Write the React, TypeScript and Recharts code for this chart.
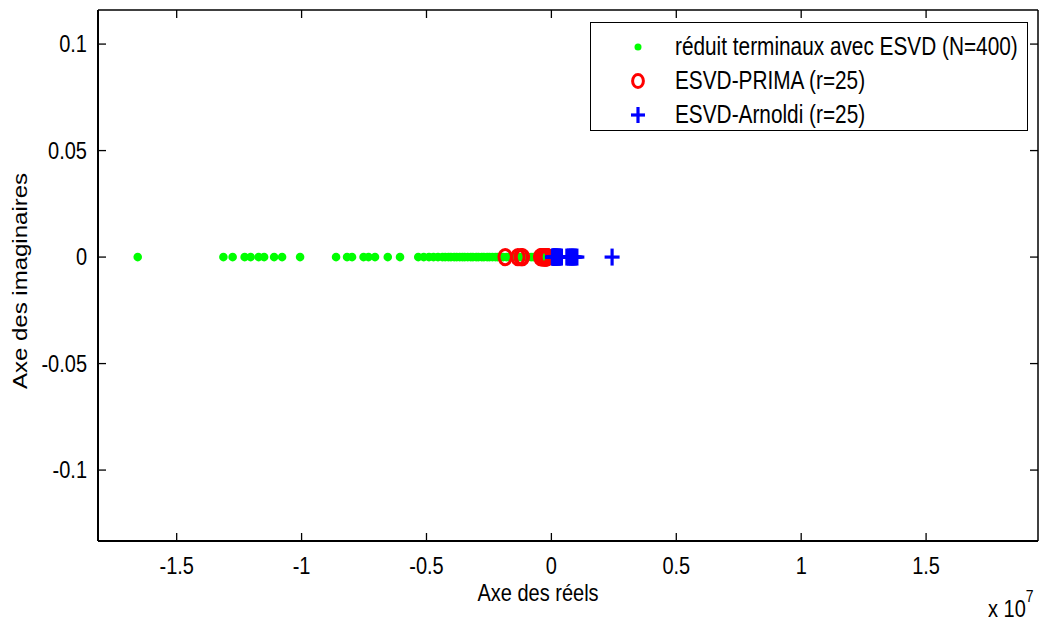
import React from 'react';
import { ScatterChart, Scatter, XAxis, YAxis } from 'recharts';

const FONT = '"Liberation Sans", Arial, Helvetica, sans-serif';
// glyphs in this figure are a bit taller than they are wide
const STRETCH = 1.2;
const TICK = 8;

// real parts of the poles, in units of 1e7 (every pole sits on the real axis)
const fullRe = [
  -1.656, -1.313, -1.276, -1.228, -1.204, -1.172, -1.15, -1.11, -1.078, -1.006,
  -0.862, -0.818, -0.798, -0.752, -0.732, -0.706, -0.655, -0.606,
  -0.533, -0.511, -0.49, -0.472, -0.454,
  -0.436, -0.425, -0.412, -0.402, -0.389, -0.379, -0.367, -0.356, -0.347, -0.335,
  -0.323, -0.314, -0.301, -0.292, -0.279, -0.27, -0.257, -0.248, -0.236, -0.224,
  -0.215, -0.202, -0.193, -0.18, -0.171, -0.158, -0.149, -0.137, -0.125, -0.116,
  -0.103, -0.094, -0.081, -0.072, -0.06, -0.05, -0.041, -0.033, -0.026, -0.02,
  -0.015, -0.011, -0.008, -0.005, -0.003, -0.001,
];
const primaRe = [
  -0.185, -0.134, -0.121, -0.116, -0.043, -0.04, -0.038, -0.036, -0.034, -0.032,
  -0.03, -0.029, -0.028, -0.027, -0.026, -0.025, -0.024, -0.023, -0.022, -0.021,
  -0.02, -0.019, -0.0185, -0.018, -0.017,
];
const arnoldiRe = [
  0.004, 0.006, 0.008, 0.01, 0.012, 0.014, 0.016, 0.018, 0.02, 0.022,
  0.025, 0.028, 0.031, 0.035, 0.04, 0.062, 0.068, 0.074, 0.078, 0.082,
  0.086, 0.09, 0.095, 0.102, 0.243,
];
const imagPart = 0;

const xTicks = [-1.5, -1, -0.5, 0, 0.5, 1, 1.5];
const yTicks = [-0.1, -0.05, 0, 0.05, 0.1];
const xDomain = [-1.815, 1.948];
const yDomain = [-0.1333, 0.116];

const legendItems = [
  { key: 'full', label: 'réduit terminaux avec ESVD (N=400)' },
  { key: 'prima', label: 'ESVD-PRIMA (r=25)' },
  { key: 'arnoldi', label: 'ESVD-Arnoldi (r=25)' },
];

const toPoints = (re: number[]) => re.map((x) => ({ x, y: imagPart }));

const Label = ({ x, y, anchor, value }: any) => (
  <g transform={`translate(${x},${y}) scale(1,${STRETCH})`}>
    <text textAnchor={anchor} dy="0.35em" fontSize={20} fontFamily={FONT} fill="#000">
      {value}
    </text>
  </g>
);

// matlab-style ticks: marks point into the plot box
const BottomTick = ({ x, y, payload }: any) => (
  <g>
    <path d={`M${x},${y}V${y - TICK}`} stroke="#000" strokeWidth={1.3} fill="none" />
    <Label x={x} y={y + 25} anchor="middle" value={String(payload.value)} />
  </g>
);
const TopTick = ({ x, y }: any) => (
  <path d={`M${x},${y}V${y + TICK}`} stroke="#000" strokeWidth={1.3} fill="none" />
);
const LeftTick = ({ x, y, payload }: any) => (
  <g>
    <path d={`M${x},${y}H${x + TICK}`} stroke="#000" strokeWidth={1.3} fill="none" />
    <Label x={x - 11} y={y} anchor="end" value={String(payload.value)} />
  </g>
);
const RightTick = ({ x, y }: any) => (
  <path d={`M${x},${y}H${x - TICK}`} stroke="#000" strokeWidth={1.3} fill="none" />
);

const Dot = ({ cx, cy }: any) => <circle cx={cx} cy={cy} r={4.3} fill="#00ff00" />;
const Ring = ({ cx, cy }: any) => (
  <ellipse cx={cx} cy={cy} rx={6.2} ry={7.6} fill="none" stroke="#ff0000" strokeWidth={3} />
);
const Plus = ({ cx, cy }: any) => (
  <g stroke="#0000ff" strokeWidth={3.2}>
    <line x1={cx - 7.5} y1={cy} x2={cx + 7.5} y2={cy} />
    <line x1={cx} y1={cy - 8.5} x2={cx} y2={cy + 8.5} />
  </g>
);
const Hidden = () => <g />;

const LegendMarker = ({ kind }: { kind: string }) => (
  <svg width={24} height={24} style={{ display: 'block' }}>
    {kind === 'full' && <circle cx={12} cy={12} r={3.5} fill="#00ff00" />}
    {kind === 'prima' && (
      <ellipse cx={12} cy={12} rx={5.4} ry={6.6} fill="none" stroke="#ff0000" strokeWidth={3} />
    )}
    {kind === 'arnoldi' && (
      <g stroke="#0000ff" strokeWidth={3.2}>
        <line x1={5} y1={12} x2={19} y2={12} />
        <line x1={12} y1={4} x2={12} y2={20} />
      </g>
    )}
  </svg>
);

const textStyle: React.CSSProperties = {
  position: 'absolute',
  fontFamily: FONT,
  fontSize: 20,
  lineHeight: 1,
  color: '#000',
  whiteSpace: 'nowrap',
};

export default function App() {
  return (
    <div style={{ position: 'absolute', left: 0, top: 0, width: 1043, height: 621, background: '#fff' }}>
      <ScatterChart width={1043} height={621} margin={{ top: 9, right: 4, bottom: 0, left: 0 }}>
        <XAxis
          xAxisId="bottom"
          type="number"
          dataKey="x"
          domain={xDomain}
          allowDataOverflow
          ticks={xTicks}
          interval={0}
          height={80}
          tickSize={0}
          tickMargin={0}
          tickLine={false}
          tick={BottomTick}
          axisLine={{ stroke: '#000', strokeWidth: 2 }}
        />
        <XAxis
          xAxisId="top"
          orientation="top"
          type="number"
          dataKey="x"
          domain={xDomain}
          allowDataOverflow
          ticks={xTicks}
          interval={0}
          height={1}
          tickSize={0}
          tickMargin={0}
          tickLine={false}
          tick={TopTick}
          axisLine={{ stroke: '#000', strokeWidth: 1.5 }}
        />
        <YAxis
          yAxisId="left"
          type="number"
          dataKey="y"
          domain={yDomain}
          allowDataOverflow
          ticks={yTicks}
          interval={0}
          width={98}
          tickSize={0}
          tickMargin={0}
          tickLine={false}
          tick={LeftTick}
          axisLine={{ stroke: '#000', strokeWidth: 2 }}
        />
        <YAxis
          yAxisId="right"
          orientation="right"
          type="number"
          dataKey="y"
          domain={yDomain}
          allowDataOverflow
          ticks={yTicks}
          interval={0}
          width={1}
          tickSize={0}
          tickMargin={0}
          tickLine={false}
          tick={RightTick}
          axisLine={{ stroke: '#000', strokeWidth: 1.5 }}
        />
        {/* ties the top and right frame axes to the data */}
        <Scatter
          xAxisId="top"
          yAxisId="right"
          data={toPoints(fullRe)}
          shape={Hidden}
          isAnimationActive={false}
        />
        <Scatter
          xAxisId="bottom"
          yAxisId="left"
          data={toPoints(fullRe)}
          shape={Dot}
          isAnimationActive={false}
        />
        <Scatter
          xAxisId="bottom"
          yAxisId="left"
          data={toPoints(primaRe)}
          shape={Ring}
          isAnimationActive={false}
        />
        <Scatter
          xAxisId="bottom"
          yAxisId="left"
          data={toPoints(arnoldiRe)}
          shape={Plus}
          isAnimationActive={false}
        />
      </ScatterChart>

      {/* legend box */}
      <div
        style={{
          position: 'absolute',
          left: 590,
          top: 22,
          width: 436,
          height: 107,
          border: '1.5px solid #000',
          background: '#fff',
        }}
      >
        {legendItems.map((item, i) => (
          <div key={item.key} style={{ position: 'absolute', left: 0, top: 12 + i * 34, height: 24, width: '100%' }}>
            <div style={{ position: 'absolute', left: 35, top: 0 }}>
              <LegendMarker kind={item.key} />
            </div>
            <div
              style={{
                ...textStyle,
                fontSize: 20.8,
                left: 84,
                top: 2,
                transform: `scale(1,${STRETCH})`,
                transformOrigin: 'left center',
              }}
            >
              {item.label}
            </div>
          </div>
        ))}
      </div>

      <div style={{ ...textStyle, left: 538, top: 593, transform: `translate(-50%,-50%) scale(1,${STRETCH})` }}>
        Axe des réels
      </div>
      <div
        style={{
          ...textStyle,
          left: 20,
          top: 281,
          transform: `translate(-50%,-50%) rotate(-90deg) scale(${STRETCH},1)`,
        }}
      >
        Axe des imaginaires
      </div>
      <div style={{ ...textStyle, left: 988, top: 597, transform: `scale(1,${STRETCH})`, transformOrigin: 'left top' }}>
        x 10<sup style={{ fontSize: 14, verticalAlign: 'top', position: 'relative', top: -8 }}>7</sup>
      </div>
    </div>
  );
}
